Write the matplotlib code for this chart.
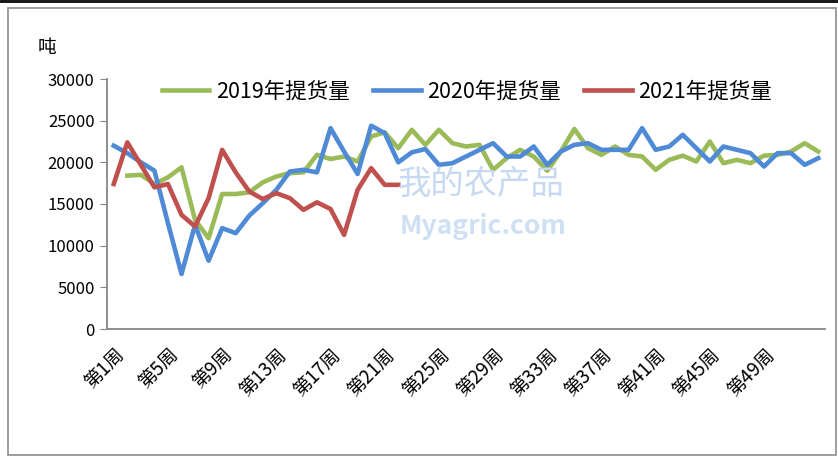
import numpy as np
import matplotlib
matplotlib.use("Agg")
import matplotlib.pyplot as plt
from matplotlib.patches import Rectangle

plt.rcParams['font.family'] = ['Noto Sans CJK SC', 'DejaVu Sans']

# Wochen 1..53
weeks = ["第%d周" % i for i in range(1, 54)]

# Daten (Tonnen)
y2019 = [np.nan, 18400, 18500, 17400, 18200, 19400, 13100, 10900, 16200, 16200,
         16400, 17600, 18300, 18700, 18800, 20900, 20400, 20700, 20100, 23100,
         23600, 21700, 23900, 22100, 23900, 22300, 21900, 22100, 19100, 20500,
         21500, 20700, 19000, 21300, 24000, 21700, 20900, 21900, 20900, 20700,
         19100, 20300, 20800, 20100, 22500, 19900, 20300, 19900, 20800, 20900,
         21300, 22300, 21300]
y2020 = [22000, 21100, 20000, 19000, 12700, 6600, 12500, 8200, 12100, 11500,
         13600, 15100, 16700, 18900, 19100, 18800, 24100, 21300, 18600, 24400,
         23500, 20000, 21200, 21600, 19700, 19900, 20700, 21500, 22300, 20700,
         20700, 21900, 19700, 21300, 22100, 22300, 21500, 21500, 21500, 24100,
         21500, 21900, 23300, 21700, 20100, 21900, 21500, 21100, 19500, 21100,
         21100, 19700, 20500]
y2021 = [17400, 22400, 19700, 17000, 17400, 13700, 12300, 15700, 21500, 18800,
         16500, 15600, 16300, 15700, 14300, 15200, 14400, 11300, 16700, 19300,
         17300, 17300]

series_names = ["2019年提货量", "2020年提货量", "2021年提货量"]
colors = ["#9BBB59", "#4F8AD6", "#C0504D"]

W, H = 838, 458
fig = plt.figure(figsize=(W / 100, H / 100), dpi=100)

# Rahmen um die Grafik
fig.patches.append(Rectangle((8 / W, 3 / H), 828 / W, 447 / H, transform=fig.transFigure,
                             fill=False, edgecolor="#8C8C8C", linewidth=1.2))
fig.patches.append(Rectangle((0, (H - 3) / H), 1, 3 / H, transform=fig.transFigure,
                             facecolor="#1A1A1A", edgecolor="none"))

# Wasserzeichen
fig.text(398 / W, (H - 184) / H, "我的农产品", fontsize=24, color="#C6D9F1",
         va="center", ha="left", zorder=0)
fig.text(400 / W, (H - 226) / H, "Myagric.com", fontsize=19, color="#CFE0F5",
         va="center", ha="left", fontweight="bold", zorder=0)

ax = fig.add_axes([107 / W, (H - 329) / H, (825 - 107) / W, 250 / H])
ax.patch.set_alpha(0)

x = np.arange(len(weeks))
ax.plot(x, y2019, color=colors[0], lw=3.3, label=series_names[0], solid_joinstyle="round")
ax.plot(x, y2020, color=colors[1], lw=3.3, label=series_names[1], solid_joinstyle="round")
ax.plot(x[:len(y2021)], y2021, color=colors[2], lw=3.3, label=series_names[2],
        solid_joinstyle="round")

ax.set_xlim(-0.5, len(weeks) - 0.5)
ax.set_ylim(0, 30000)
ax.set_yticks(np.arange(0, 30001, 5000))
ax.tick_params(axis="y", direction="out", length=5, color="#868686", labelsize=12, pad=4)
ax.set_xticks(x[:49:4])
ax.set_xticklabels(weeks[:49:4], rotation=45, ha="right", rotation_mode="anchor", fontsize=13.5)
ax.tick_params(axis="x", length=0, pad=11)

for s in ["top", "right"]:
    ax.spines[s].set_visible(False)
for s in ["left", "bottom"]:
    ax.spines[s].set_color("#868686")
    ax.spines[s].set_linewidth(1.3)

# Einheit
fig.text(38 / W, (H - 48) / H, "吨", fontsize=13.5, va="center", ha="left")

fig.legend(loc="center", bbox_to_anchor=(467 / W, (H - 92) / H), ncol=3, frameon=False,
           fontsize=15.5, handlelength=2.2, handletextpad=0.3, columnspacing=1.1)

fig.savefig("out.png", dpi=100)
